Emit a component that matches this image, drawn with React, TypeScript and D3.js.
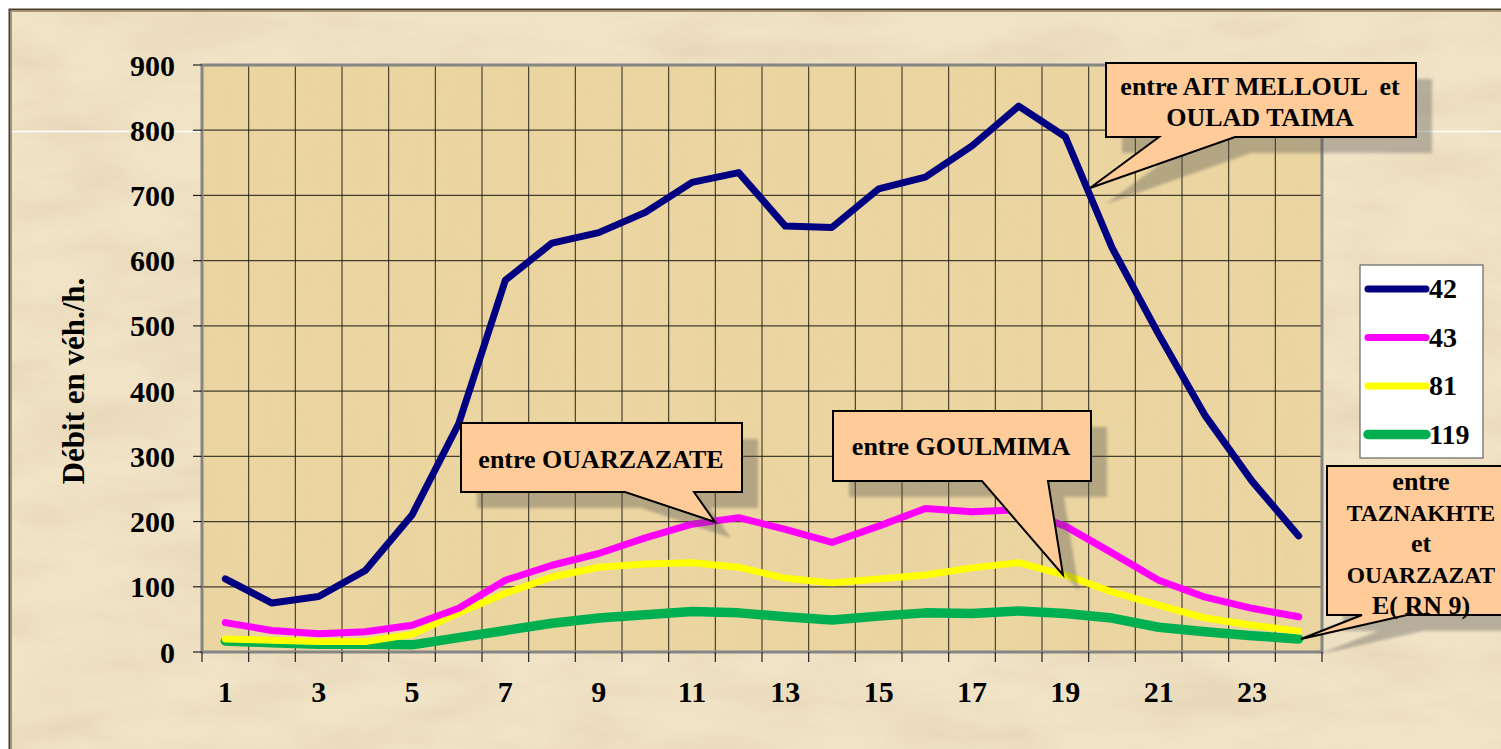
import React from 'react'
import * as d3 from 'd3'

// hourly flow (veh/h) per counting station
const hours = d3.range(1, 25)
const s42 = [112, 75, 85, 125, 210, 350, 570, 627, 643, 674, 720, 735, 653, 651, 710, 728, 776, 837, 790, 620, 487, 362, 262, 178]
const s43 = [45, 33, 28, 31, 41, 67, 110, 133, 151, 175, 196, 206, 188, 168, 193, 220, 215, 218, 193, 152, 110, 84, 67, 54]
const s81 = [20, 18, 16, 16, 27, 60, 90, 115, 130, 135, 137, 130, 113, 106, 112, 118, 129, 137, 118, 92, 72, 52, 41, 32]
const s119 = [17, 14, 12, 12, 11, 22, 33, 44, 52, 57, 62, 60, 54, 49, 55, 60, 59, 63, 59, 52, 38, 31, 25, 20]
const seriesNames = ['42', '43', '81', '119']
const yTicks = d3.range(0, 901, 100)
const xLabels = hours.filter((h) => h % 2 === 1)

const series = [
    { name: seriesNames[0], values: s42, color: '#000080', width: 7 },
    { name: seriesNames[1], values: s43, color: '#FF00FF', width: 7 },
    { name: seriesNames[2], values: s81, color: '#FFFF00', width: 7 },
    { name: seriesNames[3], values: s119, color: '#00B050', width: 9.5 }
]

const font = '"Liberation Serif", "Times New Roman", serif'

const plot = { left: 202, right: 1322, top: 65, bottom: 652 }

// size 0 = default callout font size
const callouts = [
    { lines: ['entre AIT MELLOUL  et', 'OULAD TAIMA'], sizes: [0, 0], box: [1106, 63, 1416, 137], base: [1159, 1235], tip: [1090, 188], cx: 1260, y0: 95 },
    { lines: ['entre OUARZAZATE'], sizes: [0], box: [461, 423, 742, 492], base: [625, 694], tip: [715, 522], cx: 601, y0: 468 },
    { lines: ['entre GOULMIMA'], sizes: [0], box: [833, 411, 1091, 481], base: [982, 1048], tip: [1063, 575], cx: 961, y0: 455 },
    { lines: ['entre', 'TAZNAKHTE', 'et', 'OUARZAZAT', 'E( RN 9)'], sizes: [0, 23.5, 0, 23.5, 0], box: [1327, 466, 1519, 615], base: [1362, 1407], tip: [1301, 639], cx: 1421, y0: 490 }
]

const calloutPath = (c) => {
    const [l, t, r, b] = c.box
    return `M${l},${t}H${r}V${b}H${c.base[1]}L${c.tip[0]},${c.tip[1]}L${c.base[0]},${b}H${l}Z`
}

export default function App() {
    const x = d3.scaleBand().domain(hours).range([plot.left, plot.right]).padding(0)
    const y = d3.scaleLinear().domain([0, 900]).range([plot.bottom, plot.top])
    const cx = (h) => x(h) + x.bandwidth() / 2
    const line = d3.line().x((d, i) => cx(hours[i])).y((d) => y(d)).curve(d3.curveLinear)
    const boundaries = hours.map((h) => x(h)).concat([plot.right])

    return (
        <svg width={1501} height={749} style={{ position: 'absolute', left: 0, top: 0 }}>
            <defs>
                <filter id="parch" x="0" y="0" width="100%" height="100%">
                    <feTurbulence type="fractalNoise" baseFrequency="0.008 0.025" numOctaves="4" seed="7" />
                    <feColorMatrix type="matrix" values="0 0 0 0 0.76  0 0 0 0 0.64  0 0 0 0 0.44  0 0 0 1.8 -0.7" />
                </filter>
                <filter id="papyrus" x="0" y="0" width="100%" height="100%">
                    <feTurbulence type="fractalNoise" baseFrequency="0.05 0.004" numOctaves="3" seed="3" />
                    <feColorMatrix type="matrix" values="0 0 0 0 0.80  0 0 0 0 0.64  0 0 0 0 0.35  0 0 0 1.4 -0.5" />
                </filter>
                <filter id="soft"><feGaussianBlur stdDeviation="1.5" /></filter>
            </defs>

            <rect width={1501} height={749} fill="#fff" />
            <rect x={9} y={9} width={1492} height={740} fill="#F1E3C6" />
            <rect x={9} y={9} width={1492} height={740} filter="url(#parch)" opacity={0.7} />
            <line x1={10} x2={1501} y1={131.5} y2={131.5} stroke="#fff" strokeWidth={1.5} />
            <path d="M9.5,749V9.5H1501" fill="none" stroke="#4d3f2a" strokeWidth={2} />
            <path d="M11.5,749V11.5H1501" fill="none" stroke="#a89676" strokeWidth={1} />

            {/* plot area */}
            <rect x={plot.left} y={plot.top} width={plot.right - plot.left} height={plot.bottom - plot.top} fill="#EBD5A0" />
            <rect x={plot.left} y={plot.top} width={plot.right - plot.left} height={plot.bottom - plot.top} filter="url(#papyrus)" opacity={0.55} />

            {yTicks.slice(1, -1).map((t) => (
                <line key={'gy' + t} x1={plot.left} x2={plot.right} y1={y(t)} y2={y(t)} stroke="#2a2418" strokeWidth={1.2} opacity={0.85} />
            ))}
            {boundaries.slice(1, -1).map((bx, i) => (
                <line key={'gx' + i} x1={bx} x2={bx} y1={plot.top} y2={plot.bottom} stroke="#1e1a12" strokeWidth={1.1} opacity={0.85} />
            ))}

            <rect x={plot.left} y={plot.top} width={plot.right - plot.left} height={plot.bottom - plot.top} fill="none" stroke="#858585" strokeWidth={3} />

            {/* y axis */}
            {yTicks.map((t) => (
                <g key={'yt' + t}>
                    <line x1={193} x2={plot.left} y1={y(t)} y2={y(t)} stroke="#222" strokeWidth={1.2} />
                    <text x={175} y={y(t)} dy="0.35em" textAnchor="end" fontFamily={font} fontWeight="bold" fontSize={30}>{t}</text>
                </g>
            ))}
            <text transform={`translate(84,381) rotate(-90)`} textAnchor="middle" fontFamily={font} fontWeight="bold" fontSize={31}>Débit en véh./h.</text>

            {/* x axis */}
            {boundaries.map((bx, i) => (
                <line key={'xt' + i} x1={bx} x2={bx} y1={plot.bottom} y2={plot.bottom + 10} stroke="#222" strokeWidth={1.2} />
            ))}
            {xLabels.map((h) => (
                <text key={'xl' + h} x={cx(h)} y={702} textAnchor="middle" fontFamily={font} fontWeight="bold" fontSize={30}>{h}</text>
            ))}

            {/* series */}
            {series.slice().reverse().map((s) => (
                <path key={s.name} d={line(s.values)} fill="none" stroke={s.color} strokeWidth={s.width} strokeLinecap="round" strokeLinejoin="round" />
            ))}

            {/* legend */}
            <rect x={1360} y={265} width={123} height={193} fill="#fff" stroke="#666" strokeWidth={1.2} />
            {series.map((s, i) => {
                const ly = 289 + i * 48.5
                return (
                    <g key={'lg' + s.name}>
                        <line x1={1368} x2={1426} y1={ly} y2={ly} stroke={s.color} strokeWidth={s.width} strokeLinecap="round" />
                        <text x={1429} y={ly + 9} fontFamily={font} fontWeight="bold" fontSize={28}>{s.name}</text>
                    </g>
                )
            })}

            {/* callouts */}
            {callouts.map((c, i) => (
                <g key={'co' + i}>
                    <path d={calloutPath(c)} transform="translate(16,16)" fill="#505050" opacity={0.35} filter="url(#soft)" />
                    <path d={calloutPath(c)} fill="#FFCC99" stroke="#000" strokeWidth={2} strokeLinejoin="miter" />
                    {c.lines.map((t, j) => (
                        <text key={j} x={c.cx} y={c.y0 + j * 31} textAnchor="middle" fontFamily={font} fontWeight="bold" fontSize={c.sizes[j] || 26} style={{ whiteSpace: 'pre' }}>{t}</text>
                    ))}
                </g>
            ))}
        </svg>
    )
}
